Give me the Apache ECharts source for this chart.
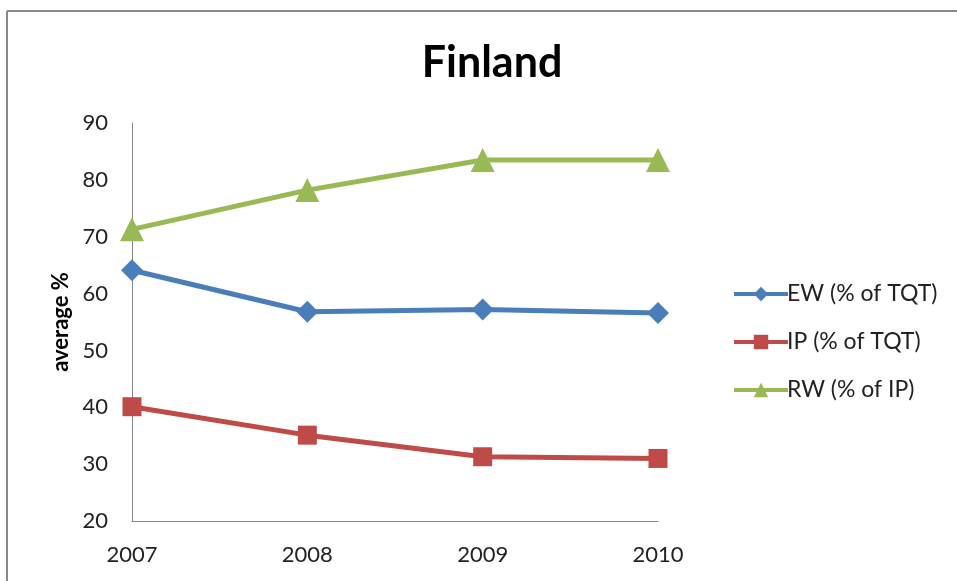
<!DOCTYPE html>
<html><head><meta charset="utf-8">
<script src="https://cdn.jsdelivr.net/npm/echarts@6/dist/echarts.min.js"></script>
<style>html,body{margin:0;padding:0;background:#fff}#c{width:957px;height:581px}</style>
</head><body><div id="c"></div>
<script>
const years = ['2007','2008','2009','2010'];
const ew = [64.1, 56.8, 57.2, 56.6];
const ip = [40.1, 35.1, 31.3, 31.0];
const rw = [71.3, 78.2, 83.5, 83.5];
const seriesNames = ['EW (% of TQT)', 'IP (% of TQT)', 'RW (% of IP)'];
const yTicks = [20, 30, 40, 50, 60, 70, 80, 90];

const font = 'Lato, "Open Sans", "Liberation Sans", sans-serif';
const chart = echarts.init(document.getElementById('c'));
function mk(name, data, color, symbol, size) {
  return { name, type: 'line', data, symbol, symbolSize: size,
    lineStyle: { color, width: 5 }, itemStyle: { color }, z: 3, animation: false };
}
chart.setOption({
  animation: false,
  backgroundColor: '#fff',
  title: { text: 'Finland', left: 487, textAlign: 'center', top: 37,
    textStyle: { fontFamily: font, fontWeight: 'bold', fontSize: 43, color: '#000' } },
  graphic: [
    { type: 'line', shape: { x1: 7, y1: 11, x2: 957, y2: 11 }, style: { stroke: '#888', lineWidth: 2 } },
    { type: 'line', shape: { x1: 7, y1: 11, x2: 7, y2: 581 }, style: { stroke: '#888', lineWidth: 2 } }
  ],
  legend: { orient: 'vertical', left: 727, top: 277, itemWidth: 54, itemHeight: 18, itemGap: 24,
    lineStyle: { width: 4 },
    textStyle: { fontFamily: font, fontSize: 23, color: '#222', lineHeight: 24, padding: [0,0,0,-6] },
    data: seriesNames },
  grid: { left: 132, right: 299, top: 123, bottom: 60 },
  xAxis: { type: 'category', data: years, boundaryGap: false,
    axisLine: { lineStyle: { color: '#868686', width: 1 } }, axisTick: { show: false },
    axisLabel: { fontFamily: font, fontSize: 22, color: '#222', margin: 23 }, splitLine: { show: false } },
  yAxis: { type: 'value', min: yTicks[0], max: yTicks[yTicks.length-1], interval: 10,
    name: 'average %', nameLocation: 'middle', nameGap: 60,
    nameTextStyle: { fontFamily: font, fontSize: 22, fontWeight: 'bold', color: '#000' },
    axisLine: { show: true, lineStyle: { color: '#868686', width: 1 } }, axisTick: { show: false },
    axisLabel: { fontFamily: font, fontSize: 22, color: '#222', margin: 24 }, splitLine: { show: false } },
  series: [
    mk(seriesNames[0], ew, '#4A7EBB', 'diamond', 22),
    mk(seriesNames[1], ip, '#BE4B48', 'rect', 19),
    mk(seriesNames[2], rw, '#98B954', 'triangle', 24)
  ]
});
</script></body></html>
